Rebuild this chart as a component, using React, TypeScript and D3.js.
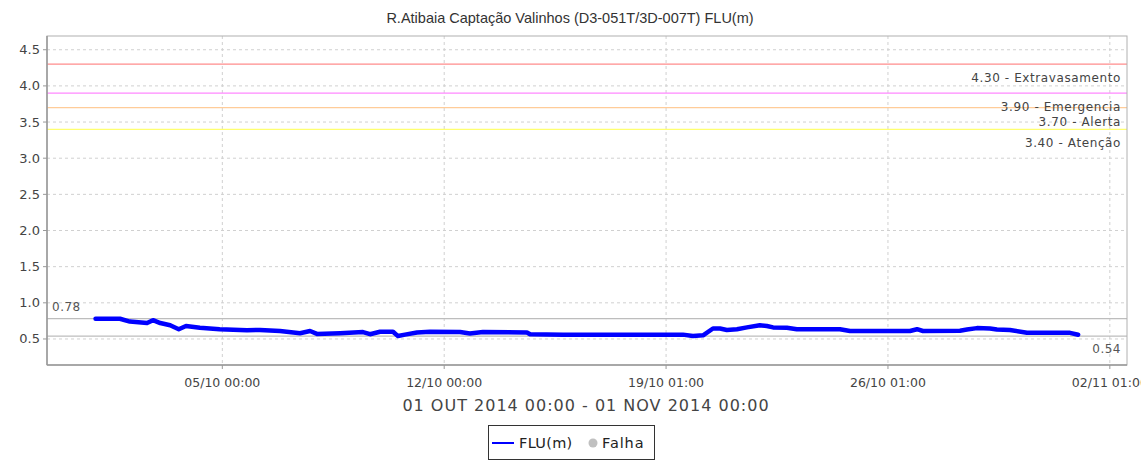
import React from "react";
import * as d3 from "d3";

const TITLE = "R.Atibaia Captação Valinhos (D3-051T/3D-007T) FLU(m)";
const X_LABEL = "01 OUT 2014 00:00 - 01 NOV 2014 00:00";
const SERIES_NAME = "FLU(m)";
const FAIL_NAME = "Falha";

const times: string[] = [
  "2014-10-01 00:00", "2014-10-01 18:30", "2014-10-02 02:00", "2014-10-02 15:00",
  "2014-10-02 19:30", "2014-10-03 01:00", "2014-10-03 08:30", "2014-10-03 15:00",
  "2014-10-03 20:30", "2014-10-04 07:00", "2014-10-04 22:00", "2014-10-05 18:40",
  "2014-10-06 04:30", "2014-10-06 19:40", "2014-10-07 10:50", "2014-10-07 18:25",
  "2014-10-07 23:40", "2014-10-08 17:10", "2014-10-09 10:30", "2014-10-09 15:50",
  "2014-10-09 23:25", "2014-10-10 09:15", "2014-10-10 13:00", "2014-10-10 18:20",
  "2014-10-11 03:25", "2014-10-11 13:15", "2014-10-12 12:00", "2014-10-12 19:30",
  "2014-10-13 05:20", "2014-10-14 14:40", "2014-10-14 17:00", "2014-10-15 18:00",
  "2014-10-16 14:20", "2014-10-19 12:45", "2014-10-19 20:20", "2014-10-20 04:00",
  "2014-10-20 11:30", "2014-10-20 16:50", "2014-10-20 22:00", "2014-10-21 05:40",
  "2014-10-21 13:15", "2014-10-21 23:00", "2014-10-22 04:20", "2014-10-22 09:00",
  "2014-10-22 19:30", "2014-10-23 03:00", "2014-10-24 11:40", "2014-10-24 19:15",
  "2014-10-26 16:40", "2014-10-26 22:00", "2014-10-27 02:30", "2014-10-28 06:30",
  "2014-10-28 11:50", "2014-10-28 19:25", "2014-10-29 05:15", "2014-10-29 10:30",
  "2014-10-29 20:20", "2014-10-30 09:15", "2014-10-31 17:50", "2014-11-01 00:00",
];

const levels: number[] = [
  0.78, 0.78, 0.74, 0.72,
  0.76, 0.72, 0.69, 0.635,
  0.68, 0.655, 0.635, 0.62,
  0.625, 0.61, 0.58, 0.61,
  0.57, 0.58, 0.595, 0.566,
  0.60, 0.60, 0.54, 0.56,
  0.59, 0.60, 0.595, 0.575,
  0.595, 0.59, 0.566, 0.558,
  0.56, 0.56, 0.54, 0.55,
  0.645, 0.645, 0.625, 0.635,
  0.66, 0.69, 0.68, 0.66,
  0.655, 0.635, 0.635, 0.61,
  0.61, 0.635, 0.61, 0.615,
  0.63, 0.65, 0.645, 0.63,
  0.625, 0.585, 0.585, 0.558,
];

const thresholdValues: number[] = [4.3, 3.9, 3.7, 3.4];
const thresholdNames: string[] = ["Extravasamento", "Emergencia", "Alerta", "Atenção"];
const thresholdColors: string[] = ["#ff8c8c", "#ff88ff", "#ffcc99", "#ffff70"];

const yTicks: number[] = [0.5, 1.0, 1.5, 2.0, 2.5, 3.0, 3.5, 4.0, 4.5];
const xTickTimes: string[] = ["2014-10-05 00:00", "2014-10-12 00:00", "2014-10-19 00:00", "2014-10-26 00:00", "2014-11-02 00:00"];
const xTickLabels: string[] = ["05/10 00:00", "12/10 00:00", "19/10 01:00", "26/10 01:00", "02/11 01:00"];
const xDomain: string[] = ["2014-09-29 11:15", "2014-11-02 13:00"];
const yDomain: number[] = [0.14, 4.69];

const parse = d3.utcParse("%Y-%m-%d %H:%M");

export default function App() {
  const W = 1141, H = 461;
  const L = 47, R = 1127, T = 36, B = 365;
  const x = d3.scaleUtc().domain(xDomain.map((s) => parse(s) as Date)).range([L, R]);
  const y = d3.scaleLinear().domain(yDomain).range([B, T]);
  const data = times.map((t, i) => ({ t: parse(t) as Date, v: levels[i] }));
  const line = d3.line<{ t: Date; v: number }>().x((d) => x(d.t)).y((d) => y(d.v));
  const maxV = d3.max(levels) as number;
  const minV = d3.min(levels) as number;
  const font = "'DejaVu Sans', sans-serif";
  const txt = "#444";

  return (
    <svg width={W} height={H} style={{ position: "absolute", left: 0, top: 0, background: "#fff" }} fontFamily={font}>
      <rect x={0} y={0} width={W} height={H} fill="#fff" />
      <text x={570} y={23} textAnchor="middle" fontSize={14.5} fill="#333" fontFamily="'Liberation Sans', Arial, sans-serif">{TITLE}</text>
      {/* grid */}
      {yTicks.map((v) => (
        <line key={"gy" + v} x1={L} x2={R} y1={y(v)} y2={y(v)} stroke="#d0d0d0" strokeDasharray="3,3" />
      ))}
      {xTickTimes.map((s) => (
        <line key={"gx" + s} x1={x(parse(s) as Date)} x2={x(parse(s) as Date)} y1={T} y2={B} stroke="#d0d0d0" strokeDasharray="3,3" />
      ))}
      {/* thresholds */}
      {thresholdValues.map((v, i) => (
        <line key={"th" + v} x1={L} x2={R} y1={y(v)} y2={y(v)} stroke={thresholdColors[i]} strokeWidth={1.2} />
      ))}
      {thresholdValues.map((v, i) => (
        <text key={"tl" + v} x={R - 6} y={y(v) + 18} textAnchor="end" fontSize={12} fill="#444" letterSpacing={0.6}>
          {v.toFixed(2) + " - " + thresholdNames[i]}
        </text>
      ))}
      {/* max/min markers */}
      <line x1={L} x2={R} y1={y(maxV)} y2={y(maxV)} stroke="#bdbdbd" strokeWidth={1.2} />
      <line x1={L} x2={R} y1={y(minV)} y2={y(minV)} stroke="#bdbdbd" strokeWidth={1.2} />
      <text x={L + 5} y={y(maxV) - 8} fontSize={12} fill="#555" letterSpacing={0.5}>{maxV.toFixed(2)}</text>
      <text x={R - 6} y={y(minV) + 17} textAnchor="end" fontSize={12} fill="#555" letterSpacing={0.5}>{minV.toFixed(2)}</text>
      {/* series */}
      <path d={line(data) as string} fill="none" stroke="#0000ff" strokeWidth={4.5} strokeLinejoin="round" strokeLinecap="round" />
      {/* frame */}
      <rect x={L} y={T} width={R - L} height={B - T} fill="none" stroke="#b0b0b0" strokeWidth={1} />
      <line x1={L} x2={L} y1={T} y2={B} stroke="#999" strokeWidth={1.5} />
      <line x1={L} x2={R} y1={B} y2={B} stroke="#999" strokeWidth={1.5} />
      {/* y axis */}
      {yTicks.map((v) => (
        <g key={"yt" + v}>
          <line x1={L - 4} x2={L} y1={y(v)} y2={y(v)} stroke="#999" />
          <text x={L - 7} y={y(v) + 4.5} textAnchor="end" fontSize={13} fill={txt}>{v.toFixed(1)}</text>
        </g>
      ))}
      {/* x axis */}
      {xTickTimes.map((s, i) => (
        <g key={"xt" + s}>
          <line x1={x(parse(s) as Date)} x2={x(parse(s) as Date)} y1={B} y2={B + 4} stroke="#999" />
          <text x={x(parse(s) as Date)} y={B + 22} textAnchor="middle" fontSize={12.5} fill={txt}>{xTickLabels[i]}</text>
        </g>
      ))}
      <text x={586} y={411} textAnchor="middle" fontSize={16} fill={txt} letterSpacing={1}>{X_LABEL}</text>
      {/* legend */}
      <rect x={488.5} y={425.5} width={166} height={34} fill="#fff" stroke="#333" strokeWidth={1} />
      <line x1={492} x2={514} y1={443} y2={443} stroke="#0000ff" strokeWidth={2} />
      <text x={519} y={448} fontSize={14.5} fill="#222" letterSpacing={0.3}>{SERIES_NAME}</text>
      <circle cx={593} cy={443} r={4.5} fill="#c0c0c0" />
      <text x={602} y={448} fontSize={14.5} fill="#222" letterSpacing={0.9}>{FAIL_NAME}</text>
    </svg>
  );
}
